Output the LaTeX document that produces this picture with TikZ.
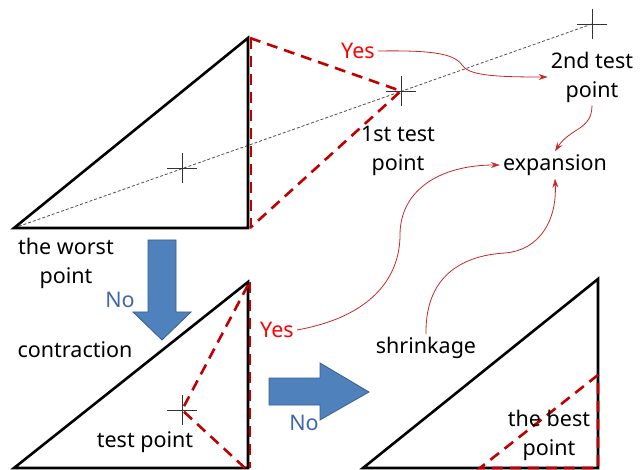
\documentclass[tikz,border=0pt]{standalone}
\usepackage{fontspec}
\setmainfont{Noto Sans}
\usetikzlibrary{arrows.meta}
\definecolor{dred}{RGB}{192,0,0}
\definecolor{cred}{RGB}{200,40,40}
\definecolor{bfill}{RGB}{79,129,189}
\definecolor{bline}{RGB}{56,93,138}
\definecolor{ntext}{RGB}{62,104,168}
\tikzset{
  tri/.style={line width=2.6pt, line join=miter},
  rdash/.style={dred, line width=2.6pt, dash pattern=on 11pt off 7pt},
  guide/.style={black!70, line width=0.8pt, dash pattern=on 3pt off 2pt},
  crossline/.style={line width=0.9pt, black!80},
  carrow/.style={cred, line width=0.8pt, -{Stealth[length=9pt,width=6pt]}},
  lbl/.style={font=\fontsize{21.5}{29}\selectfont, align=center, inner sep=3pt},
  barrow/.style={fill=bfill, draw=bline, line width=0.8pt},
}
\begin{document}
\begin{tikzpicture}[x=1pt,y=-1pt]
\useasboundingbox (0,0) rectangle (640,470);
% coordinates
\coordinate (w) at (14,228);
\coordinate (c0) at (182,168);
\coordinate (t1) at (401,91);
\coordinate (t2) at (592,24);
\coordinate (ct) at (182,410);
% guide line
\draw[guide] (w) -- (t2);
% top triangle
\draw[tri] (w) -- (248,38) -- (248,228) -- cycle;
\draw[rdash] (251,38) -- (251,228);
\draw[rdash] (250,38) -- (t1) -- (250,228);
% lower-left triangle
\draw[tri] (14,468) -- (248,282) -- (248,468) -- cycle;
\draw[rdash] (250,282) -- (250,468);
\draw[rdash] (248,285) -- (ct) -- (245,468);
% lower-right triangle
\draw[tri] (363,468) -- (598,279) -- (598,468) -- cycle;
\draw[rdash] (598,375) -- (480,468) -- (598,468) -- cycle;
% crosshairs
\foreach \p in {c0,t1,t2,ct}{
  \draw[crossline] (\p) +(-15,0) -- +(15,0);
  \draw[crossline] (\p) +(0,-15) -- +(0,15);
}
% blue arrows
\draw[barrow] (148,240) -- (176,240) -- (176,312) -- (191,312) -- (162,340)
  -- (133,312) -- (148,312) -- cycle;
\draw[barrow] (269,378) -- (320,378) -- (320,363) -- (369,392) -- (320,420)
  -- (320,405) -- (269,405) -- cycle;
% labels
\node[lbl, text=red] (yes1) at (358,51) {Yes};
\node[lbl] (p2) at (592,77) {2nd test\\point};
\node[lbl] (p1) at (398,151) {1st test\\point};
\node[lbl] (exp) at (555,165) {expansion};
\node[lbl] (worst) at (66,263) {the worst\\point};
\node[lbl, text=ntext] (no1) at (120,300) {No};
\node[lbl] (con) at (75,350) {contraction};
\node[lbl, text=red] (yes2) at (277,330) {Yes};
\node[lbl] (tp) at (145,442) {test point};
\node[lbl, text=ntext] (no2) at (304,423) {No};
\node[lbl] (shr) at (426,348) {shrinkage};
\node[lbl] (best) at (549,435) {the best\\point};
% curved arrows
\draw[carrow] (yes1.east) .. controls (440,50) and (455,55) .. (463,66)
  .. controls (470,76) and (500,77) .. (p2.west);
\draw[carrow] (p2.south) .. controls (592,130) and (570,128) .. (exp.north);
\draw[carrow] (yes2.east) .. controls (380,315) and (400,270) .. (400,235)
  .. controls (400,190) and (440,165) .. (exp.west);
\draw[carrow] (shr.north) .. controls (425,270) and (470,255) .. (505,253)
  .. controls (540,250) and (557,220) .. (exp.south);
\end{tikzpicture}
\end{document}
